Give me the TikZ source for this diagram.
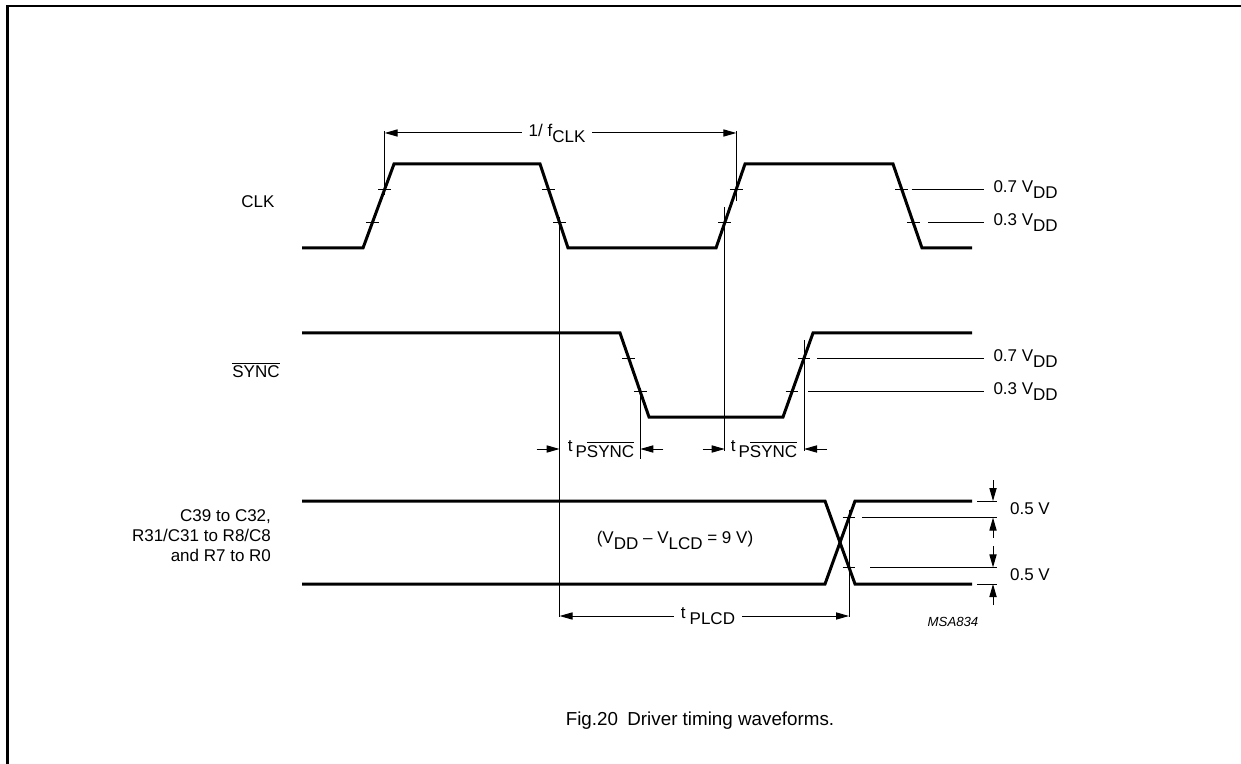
\documentclass[tikz,border=0pt]{standalone}
\usepackage{fontspec}
\setmainfont{Liberation Sans}
\usetikzlibrary{calc,arrows.meta,positioning}
\newcommand{\lo}[1]{\raisebox{-3pt}{#1}}
\newcommand{\ovl}[1]{$\overline{\mbox{#1}}$}

\begin{document}
\begin{tikzpicture}[x=0.5pt,y=-0.5pt,font=\fontsize{8.5}{10}\selectfont,
		wave/.style={line width=1.5pt},
		thin/.style={line width=0.5pt},
		dim/.style={line width=0.5pt,-{Triangle[length=6.5pt,width=3.6pt]}},
		lvl/.style={anchor=west,inner sep=0pt,xshift=4.5pt}]
	\useasboundingbox (0,0) rectangle (1241,764);
	\draw[line width=1.2pt] (7.5,764) -- (7.5,6) -- (1241,6);

	\node (clk) at (258,202) {CLK};
	\node (sync) at (256,370) {\ovl{SYNC}};
	\node[align=right,anchor=east] (cols) at (278,536) {C39 to C32,\\R31/C31 to R8/C8\\and R7 to R0};

	\draw[wave] (302,248) -- (363,248) coordinate (r1a) -- (394,164) coordinate (r1b) -- (540,164) coordinate (f1a) -- (568,248) coordinate (f1b) -- (716,248) coordinate (r2a) -- (745,164) coordinate (r2b) -- (893,164) coordinate (f2a) -- (922,248) coordinate (f2b) -- (972,248);
	\draw[wave] (302,333) -- (620,333) coordinate (s1a) -- (649,417) coordinate (s1b) -- (783,417) coordinate (s2a) -- (813,333) coordinate (s2b) -- (972,333);
	\draw[wave] (302,501) -- (825,501) coordinate (x1a) -- (855,584) coordinate (x1b) -- (972,584);
	\draw[wave] (302,584) -- (825,584) coordinate (x2a) -- (855,501) coordinate (x2b) -- (972,501);

	\coordinate (r1h) at ($(r1a)!0.7!(r1b)$);
	\coordinate (r1l) at ($(r1a)!0.3!(r1b)$);
	\coordinate (f1h) at ($(f1a)!0.3!(f1b)$);
	\coordinate (f1l) at ($(f1a)!0.7!(f1b)$);
	\coordinate (r2h) at ($(r2a)!0.7!(r2b)$);
	\coordinate (r2l) at ($(r2a)!0.3!(r2b)$);
	\coordinate (f2h) at ($(f2a)!0.3!(f2b)$);
	\coordinate (f2l) at ($(f2a)!0.7!(f2b)$);
	\coordinate (s1h) at ($(s1a)!0.3!(s1b)$);
	\coordinate (s1l) at ($(s1a)!0.7!(s1b)$);
	\coordinate (s2h) at ($(s2a)!0.7!(s2b)$);
	\coordinate (s2l) at ($(s2a)!0.3!(s2b)$);
	\coordinate (x2h) at ($(x2a)!0.8!(x2b)$);
	\coordinate (x1l) at ($(x1a)!0.8!(x1b)$);
	\foreach \p in {r1h,r1l,f1h,f1l,r2h,r2l,f2h,f2l,s1h,s1l,s2h,s2l,x2h,x1l}
		\draw[thin] ([xshift=-3.2pt]\p) -- ([xshift=3.2pt]\p);

	\coordinate (rc) at (984,0);
	\coordinate (rd) at (997,0);
	\coordinate (re) at (977,0);
	\coordinate (ar) at (993,0);
	\draw[thin] ([xshift=5pt]f2h) -- (f2h -| rc) node[lvl] (clkh) {0.7 V\lo{DD}};
	\draw[thin] ([xshift=7.5pt]f2l) -- (f2l -| rc) node[lvl] (clkl) {0.3 V\lo{DD}};
	\draw[thin] ([xshift=6.5pt]s2h) -- (s2h -| rc) node[lvl] (synch) {0.7 V\lo{DD}};
	\draw[thin] ([xshift=8pt]s2l) -- (s2l -| rc) node[lvl] (syncl) {0.3 V\lo{DD}};
	\draw[thin] ([xshift=6.5pt]x2h) -- (x2h -| rd);
	\draw[thin] ([xshift=10.5pt]x1l) -- (x1l -| rd);
	\draw[thin] (x2b -| re) -- (x2b -| rd);
	\draw[thin] (x1b -| re) -- (x1b -| rd);
	\draw[dim] (x2b -| ar) ++(0,-21) -- (x2b -| ar);
	\draw[dim] (x2h -| ar) ++(0,20) -- (x2h -| ar);
	\draw[dim] (x1l -| ar) ++(0,-21) -- (x1l -| ar);
	\draw[dim] (x1b -| ar) ++(0,21) -- (x1b -| ar);
	\node[anchor=west] (hi05) at (1003,509) {0.5 V};
	\node[anchor=west] (lo05) at (1003,575) {0.5 V};

	\node (fclk) at (557,133) {1/ f\lo{CLK}};
	\draw[thin] ([yshift=-3pt]r1h) -- (r1h |- fclk) -- ++(0,-2);
	\draw[thin] ([yshift=-6pt]r2h) -- (r2h |- fclk) -- ++(0,-2);
	\draw[dim] (fclk) -- (r1h |- fclk);
	\draw[dim] (fclk) -- (r2h |- fclk);

	\node (tps1) at (601,449) {t\kern1.5pt\lo{P\ovl{SYNC}}};
	\node (tps2) at (764,449) {t\kern1.5pt\lo{P\ovl{SYNC}}};
	\node (tpl) at (708,616) {t\kern2pt\lo{PLCD}};
	\draw[thin] ([yshift=3pt]f1l) -- (f1l |- tpl) -- ++(0,1);
	\draw[thin] ([yshift=8pt]r2l) -- (r2l |- tps2) -- ++(0,2);
	\draw[thin] ([yshift=2pt]s1l) -- (s1l |- tps1) -- ++(0,10);
	\draw[thin] ([yshift=9pt]s2h) -- (s2h |- tps2) -- ++(0,2);
	\draw[thin] ([yshift=4pt]x2h) -- (x2h |- tpl) -- ++(0,1);
	\draw[dim] (f1l |- tps1) ++(-23,0) -- (f1l |- tps1);
	\draw[dim] (s1l |- tps1) ++(23,0) -- (s1l |- tps1);
	\draw[dim] (r2l |- tps2) ++(-22,0) -- (r2l |- tps2);
	\draw[dim] (s2h |- tps2) ++(23,0) -- (s2h |- tps2);
	\draw[dim] (tpl) -- (f1l |- tpl);
	\draw[dim] (tpl) -- (x2h |- tpl);

	\node (vlcd) at (675,540) {(V\lo{DD} -- V\lo{LCD} = 9 V)};
	\node[font=\fontsize{6.6}{8}\selectfont\itshape] (msa) at (953,622) {MSA834};
	\node[font=\fontsize{9.4}{11}\selectfont] (cap) at (700,721) {Fig.20\enspace Driver timing waveforms.};
\end{tikzpicture}
\end{document}
